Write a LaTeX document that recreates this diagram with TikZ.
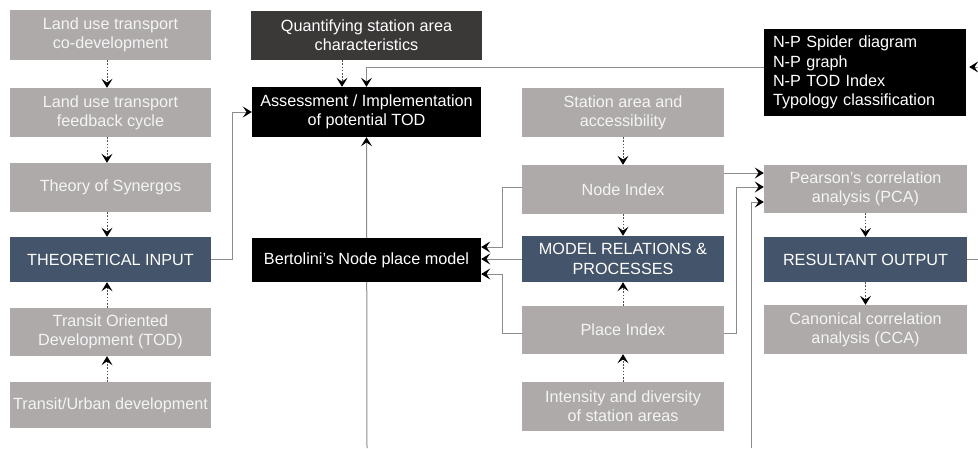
\documentclass[tikz,border=0pt]{standalone}
\usepackage{fontspec}
\setmainfont{Liberation Sans}
\usetikzlibrary{arrows.meta,calc,backgrounds}
\definecolor{boxgray}{HTML}{AEAAAA}
\definecolor{navy}{HTML}{44546A}
\definecolor{darkbox}{HTML}{3B3838}
\definecolor{linegray}{HTML}{8C8C8C}
\definecolor{dotgray}{HTML}{505050}
\definecolor{txtlight}{HTML}{F4F4F4}
\tikzset{
  boxbase/.style={inner sep=0pt, align=center},
  gbox/.style={boxbase, fill=boxgray, text=txtlight},
  nbox/.style={boxbase, fill=navy, text=white},
  kbox/.style={boxbase, fill=black, text=white},
  dbox/.style={boxbase, fill=darkbox, text=white},
  wh/.style 2 args={minimum width=#1pt, minimum height=#2pt},
  tip/.style={-{Stealth[length=9pt,width=11pt,inset=3.8pt,color=black]}},
  dotarr/.style={tip, draw=dotgray, line width=0.9pt, dash pattern=on 1.6pt off 1.6pt},
  conn/.style={tip, draw=linegray, line width=1pt},
  plainline/.style={draw=linegray, line width=1pt},
}
\begin{document}
\begin{tikzpicture}[x=1pt, y=-1pt, font=\fontsize{16.2}{19.2}\selectfont]
\useasboundingbox (0,0) rectangle (978,448);
% left column
\node[gbox, wh={201}{50}] (lu1) at (110.5,35) {Land use transport\\co-development};
\node[gbox, wh={201}{49}] (lu2) at (110.5,112.5) {Land use transport\\feedback cycle};
\node[gbox, wh={201}{49}] (syn) at (110.5,187.5) {Theory of Synergos};
\node[nbox, wh={201}{45}] (ti) at (110.5,259.5) {THEORETICAL INPUT};
\node[gbox, wh={201}{48}] (tod) at (110.5,332) {Transit Oriented\\Development (TOD)};
\node[gbox, wh={201}{46}] (tu) at (110.5,405) {Transit/Urban development};
% second column
\node[dbox, wh={231}{49}] (quant) at (366.5,35.5) {Quantifying station area\\characteristics};
\node[kbox, wh={229}{50}] (assess) at (366.5,112) {Assessment / Implementation\\of potential TOD};
\node[kbox, wh={229}{44}] (bert) at (366.5,260) {Bertolini's Node place model};
% third column
\node[gbox, wh={202}{49}] (sta) at (623,112.5) {Station area and\\accessibility};
\node[gbox, wh={202}{49}] (ni) at (623,189.5) {Node Index};
\node[nbox, wh={202}{46}] (mrp) at (623,259) {MODEL RELATIONS \&\\PROCESSES};
\node[gbox, wh={202}{48}] (pi) at (623,330) {Place Index};
\node[gbox, wh={202}{49}] (int) at (623,406.5) {Intensity and diversity\\of station areas};
% fourth column
\node[kbox, wh={202}{87}, align=left, text width=184pt] (np) at (865,72.5) {N-P Spider diagram\\N-P graph\\N-P TOD Index\\Typology classification};
\node[gbox, wh={203}{48}] (pca) at (865.5,189) {Pearson's correlation\\analysis (PCA)};
\node[nbox, wh={203}{45}] (ro) at (865.5,259.5) {RESULTANT OUTPUT};
\node[gbox, wh={203}{49}] (cca) at (865.5,329.5) {Canonical correlation\\analysis (CCA)};
% free ends
\coordinate (bot1) at (367,448);
\coordinate (bot2) at (751,448);
\coordinate (rout) at (978,258);
\coordinate (npin) at (978,67);
\begin{pgfonlayer}{background}
% dotted arrows
\draw[dotarr] ([xshift=-3.5pt]lu1.south) -- ([xshift=-3.5pt]lu2.north);
\draw[dotarr] ([xshift=-3.5pt]lu2.south) -- ([xshift=-3.5pt]syn.north);
\draw[dotarr] ([xshift=-3.5pt]syn.south) -- ([xshift=-3.5pt]ti.north);
\draw[dotarr] ([xshift=-3.5pt]tod.north) -- ([xshift=-3.5pt]ti.south);
\draw[dotarr] ([xshift=-3.5pt]tu.north) -- ([xshift=-3.5pt]tod.south);
\draw[dotarr] ([xshift=-24.5pt]quant.south) -- ([xshift=-24.5pt]assess.north);
\draw[dotarr] (sta.south) -- (ni.north);
\draw[dotarr] (ni.south) -- (mrp.north);
\draw[dotarr] (pi.north) -- (mrp.south);
\draw[dotarr] (int.north) -- (pi.south);
\draw[dotarr] (pca.south) -- (ro.north);
\draw[dotarr] (ro.south) -- (cca.north);
% solid connectors
\draw[conn] ([yshift=5.5pt]np.west) -| (assess.north);
\draw[conn] (ti.east) -- ++(21,0) |- (assess.west);
\draw[conn] (bot1) -- (assess.south);
\draw[conn] ([yshift=2.5pt]ni.west) -- ++(-19,0) |- ([yshift=13pt]bert.east);
\draw[conn] (mrp.west) -- (mrp.west -| bert.east);
\draw[conn] ([yshift=-3pt]pi.west) -- ++(-19,0) |- ([yshift=-14pt]bert.east);
\draw[conn] ([yshift=16.5pt]ni.east) -- ([yshift=16.5pt]ni.east -| pca.west);
\draw[conn] ([yshift=-3pt]pi.east) -- ++(12,0) |- ([yshift=2pt]pca.west);
\draw[conn] (bot2) |- ([yshift=-13pt]pca.west);
\draw[plainline] (ro.east) -- (ro.east -| rout);
\draw[conn, shorten >=3pt] (npin) -- (npin -| np.east);
\end{pgfonlayer}
\end{tikzpicture}
\end{document}
